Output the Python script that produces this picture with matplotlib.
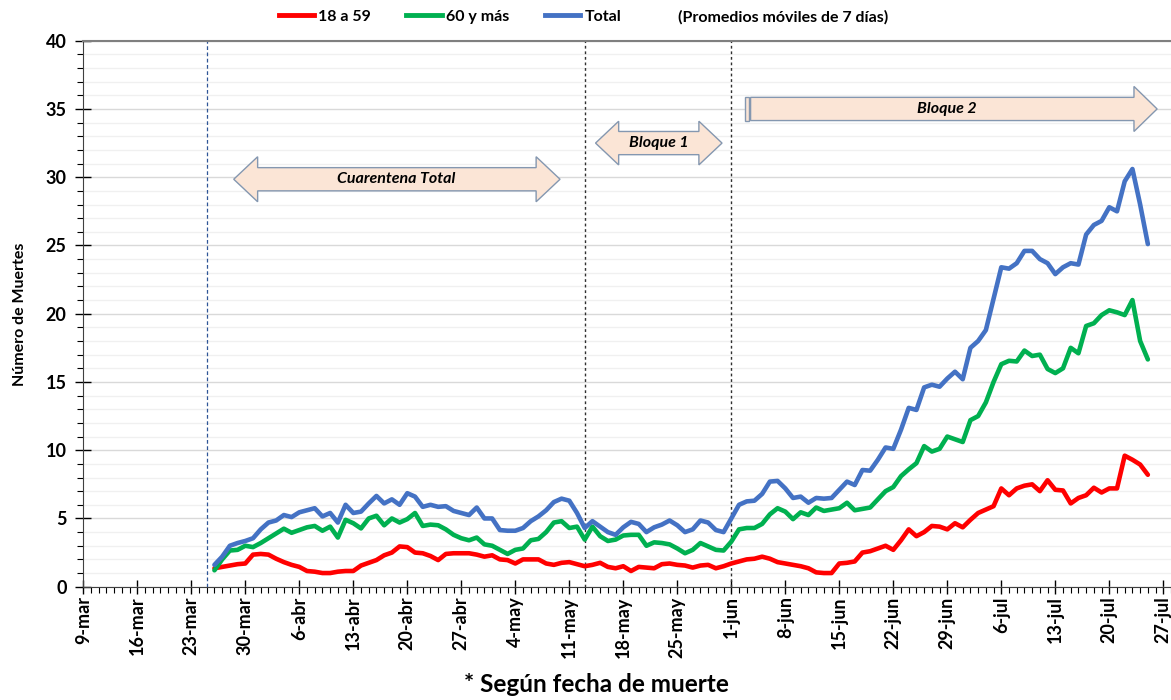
import numpy as np
import pandas as pd
import matplotlib
matplotlib.use("Agg")
import matplotlib.pyplot as plt
import matplotlib.dates as mdates
from matplotlib.patches import Polygon
from matplotlib.lines import Line2D

plt.rcParams['font.family'] = ['Lato', 'DejaVu Sans']

# Daily 7-day moving averages, 26-mar .. 25-jul 2020
dates = pd.date_range('2020-03-26', '2020-07-25', freq='D')

edad_18_59 = [
    1.35, 1.45, 1.55, 1.65, 1.7, 2.35, 2.4, 2.35, 2.05, 1.8, 1.6, 1.45, 1.15, 1.1, 1.0, 1.0, 1.1,
    1.15, 1.15, 1.55, 1.75, 1.95, 2.3, 2.5, 2.95, 2.9, 2.5, 2.45, 2.25, 1.95, 2.4, 2.45, 2.45, 2.45,
    2.35, 2.2, 2.3, 2.0, 1.95, 1.7, 2.0, 2.0, 2.0, 1.7, 1.6, 1.75, 1.8, 1.65, 1.5, 1.6, 1.75,
    1.45, 1.35, 1.5, 1.15, 1.45, 1.4, 1.35, 1.65, 1.7, 1.6, 1.55, 1.4, 1.55, 1.6, 1.35, 1.5, 1.7,
    1.85, 2.0, 2.05, 2.2, 2.05, 1.8, 1.7, 1.6, 1.5, 1.35, 1.05, 1.0, 1.0, 1.7, 1.75, 1.85,
    2.5, 2.6, 2.8, 3.0, 2.7, 3.4, 4.2, 3.7, 4.0, 4.45, 4.4, 4.2, 4.65, 4.35, 4.9, 5.4, 5.65, 5.9,
    7.2, 6.7, 7.2, 7.4, 7.5, 7.0, 7.8, 7.1, 7.05, 6.1, 6.5, 6.7, 7.25, 6.9, 7.2, 7.2, 9.6, 9.3,
    8.95, 8.2]

edad_60_mas = [
    1.2, 2.0, 2.65, 2.7, 3.0, 2.9, 3.2, 3.55, 3.9, 4.25, 3.95, 4.15, 4.35, 4.45, 4.1, 4.4, 3.6,
    4.9, 4.65, 4.27, 5.0, 5.2, 4.5, 5.0, 4.7, 4.95, 5.4, 4.45, 4.55, 4.5, 4.2, 3.8, 3.55, 3.4,
    3.6, 3.1, 3.0, 2.7, 2.4, 2.7, 2.8, 3.4, 3.5, 4.0, 4.7, 4.8, 4.3, 4.4, 3.45, 4.4, 3.7,
    3.35, 3.45, 3.75, 3.8, 3.8, 3.0, 3.25, 3.2, 3.1, 2.8, 2.45, 2.7, 3.2, 2.95, 2.7, 2.65, 3.3,
    4.2, 4.3, 4.3, 4.6, 5.3, 5.75, 5.5, 4.95, 5.45, 5.25, 5.8, 5.55, 5.65, 5.75, 6.15, 5.6,
    5.7, 5.8, 6.4, 7.0, 7.3, 8.1, 8.6, 9.05, 10.3, 9.9, 10.1, 11.0, 10.8, 10.6, 12.2, 12.5, 13.5,
    15.0, 16.3, 16.55, 16.5, 17.3, 16.9, 17.0, 15.95, 15.65, 16.0, 17.5, 17.1, 19.1, 19.3, 19.9,
    20.25, 20.1, 19.9, 21.0, 18.0, 16.65]

total = [
    1.6, 2.2, 3.0, 3.2, 3.35, 3.55, 4.2, 4.7, 4.85, 5.25, 5.1, 5.45, 5.6, 5.75, 5.15, 5.4, 4.7,
    6.0, 5.4, 5.5, 6.1, 6.65, 6.1, 6.4, 6.0, 6.85, 6.6, 5.85, 6.0, 5.85, 5.9, 5.55, 5.4, 5.25,
    5.8, 5.0, 5.0, 4.15, 4.1, 4.1, 4.3, 4.8, 5.15, 5.6, 6.2, 6.45, 6.3, 5.4, 4.3, 4.8, 4.4,
    4.0, 3.8, 4.35, 4.75, 4.6, 4.0, 4.35, 4.55, 4.85, 4.5, 4.0, 4.2, 4.85, 4.7, 4.15, 4.0, 5.0,
    6.0, 6.25, 6.3, 6.8, 7.7, 7.75, 7.2, 6.5, 6.6, 6.15, 6.5, 6.45, 6.5, 7.1, 7.7, 7.45,
    8.55, 8.5, 9.3, 10.2, 10.1, 11.5, 13.1, 12.95, 14.6, 14.8, 14.65, 15.25, 15.75, 15.2, 17.5,
    18.0, 18.8, 21.1, 23.4, 23.3, 23.7, 24.6, 24.6, 24.0, 23.7, 22.9, 23.4, 23.7, 23.6, 25.8,
    26.5, 26.8, 27.8, 27.5, 29.7, 30.6, 28.0, 25.1]

xtick_labels = ['9-mar', '16-mar', '23-mar', '30-mar', '6-abr', '13-abr', '20-abr', '27-abr',
                '4-may', '11-may', '18-may', '25-may', '1-jun', '8-jun', '15-jun', '22-jun',
                '29-jun', '6-jul', '13-jul', '20-jul', '27-jul']

fig = plt.figure(figsize=(11.71, 7.0), dpi=100)
ax = fig.add_axes([83.3 / 1171, 1 - 586.7 / 700, 1 - 83.3 / 1171, (586.7 - 40.7) / 700])

start = mdates.date2num(pd.Timestamp('2020-03-09'))
ax.set_xlim(start, start + 141.0)
ax.set_ylim(0, 40)

# grid
ax.set_yticks(range(0, 41, 5))
ax.set_yticks(range(0, 41, 1), minor=True)
ax.grid(axis='y', which='minor', color='#F0F0F0', lw=1.0, zorder=0)
ax.grid(axis='y', which='major', color='#D9D9D9', lw=1.0, zorder=0)
ax.set_axisbelow(True)

ax.set_xticks([start + 7 * i for i in range(len(xtick_labels))])
ax.set_xticklabels(xtick_labels, rotation=90, fontsize=13, fontweight='bold')
ax.set_xticks([start + i for i in range(142)], minor=True)
ax.tick_params(axis='x', which='major', direction='inout', length=10, width=1, pad=2)
ax.tick_params(axis='x', which='minor', direction='out', length=4, width=0.8)
ax.tick_params(axis='y', which='major', direction='inout', length=12, width=1, labelsize=13, pad=6)
ax.tick_params(axis='y', which='minor', direction='out', length=4, width=0.8)
for lab in ax.get_yticklabels():
    lab.set_fontweight('bold')

ax.spines['right'].set_visible(False)
ax.spines['top'].set_color('#7F7F7F')
ax.spines['top'].set_linewidth(1.5)
ax.spines['left'].set_color('#404040')
ax.spines['bottom'].set_color('#404040')

# phase separators
ax.axvline(start + 16, color='#2F5597', lw=0.9, ls=(0, (3, 2)), zorder=1)
ax.axvline(start + 65, color='#303030', lw=1.0, ls=(0, (2, 2)), zorder=1)
ax.axvline(start + 84, color='#303030', lw=1.0, ls=(0, (2, 2)), zorder=1)

for serie, color in [(edad_18_59, '#FF0000'), (edad_60_mas, '#00B050'), (total, '#4472C4')]:
    ax.plot(dates, serie, color=color, lw=3.3, solid_joinstyle='round',
            solid_capstyle='round', zorder=3)

# block arrows
fill_c = '#FBE5D6'
edge_c = '#8497B0'


def double_arrow(x0, x1, yc, bh, hh, hl):
    pts = [(x0, yc), (x0 + hl, yc + hh), (x0 + hl, yc + bh), (x1 - hl, yc + bh),
           (x1 - hl, yc + hh), (x1, yc), (x1 - hl, yc - hh), (x1 - hl, yc - bh),
           (x0 + hl, yc - bh), (x0 + hl, yc - hh)]
    ax.add_patch(Polygon([(start + a, b) for a, b in pts], closed=True, fc=fill_c,
                         ec=edge_c, lw=1.0, zorder=4))


def right_arrow(x0, x1, yc, bh, hh, hl):
    pts = [(x0, yc + bh), (x1 - hl, yc + bh), (x1 - hl, yc + hh), (x1, yc),
           (x1 - hl, yc - hh), (x1 - hl, yc - bh), (x0, yc - bh)]
    ax.add_patch(Polygon([(start + a, b) for a, b in pts], closed=True, fc=fill_c,
                         ec=edge_c, lw=1.0, zorder=4))


double_arrow(19.5, 61.8, 29.85, 0.85, 1.65, 3.1)
ax.text(start + 40.6, 29.85, 'Cuarentena Total', ha='center', va='center', fontsize=11.5,
        fontweight='bold', style='italic', zorder=5)

double_arrow(66.4, 82.8, 32.5, 0.85, 1.6, 3.0)
ax.text(start + 74.6, 32.5, 'Bloque 1', ha='center', va='center', fontsize=11.5,
        fontweight='bold', style='italic', zorder=5)

ax.add_patch(Polygon([(start + 85.8, 35.85), (start + 86.3, 35.85), (start + 86.3, 34.15),
                      (start + 85.8, 34.15)], closed=True, fc=fill_c, ec=edge_c, lw=1.0, zorder=4))
right_arrow(86.5, 139.2, 35.0, 0.85, 1.65, 3.0)
ax.text(start + 112.0, 35.0, 'Bloque 2', ha='center', va='center', fontsize=11.5,
        fontweight='bold', style='italic', zorder=5)

# legend + notes
handles = [Line2D([], [], color='#FF0000', lw=3.5),
           Line2D([], [], color='#00B050', lw=3.5),
           Line2D([], [], color='#4472C4', lw=3.5)]
fig.legend(handles, ['18 a 59', '60 y más', 'Total'], loc='center', ncol=3,
           bbox_to_anchor=(450 / 1171, 1 - 17 / 700), frameon=False, handlelength=2.2,
           handletextpad=0.3, columnspacing=2.2, prop={'weight': 'bold', 'size': 11.5})
fig.text(783 / 1171, 1 - 17 / 700, '(Promedios móviles de 7 días)', ha='center', va='center',
         fontsize=11.5, fontweight='bold')

fig.text(20 / 1171, 1 - 314 / 700, 'Número de Muertes', rotation=90, ha='center', va='center',
         fontsize=11.5, fontweight='bold')
fig.text(596 / 1171, 1 - 685 / 700, '* Según fecha de muerte', ha='center', va='center',
         fontsize=17.5, fontweight='bold')

fig.savefig('out.png', dpi=100)
